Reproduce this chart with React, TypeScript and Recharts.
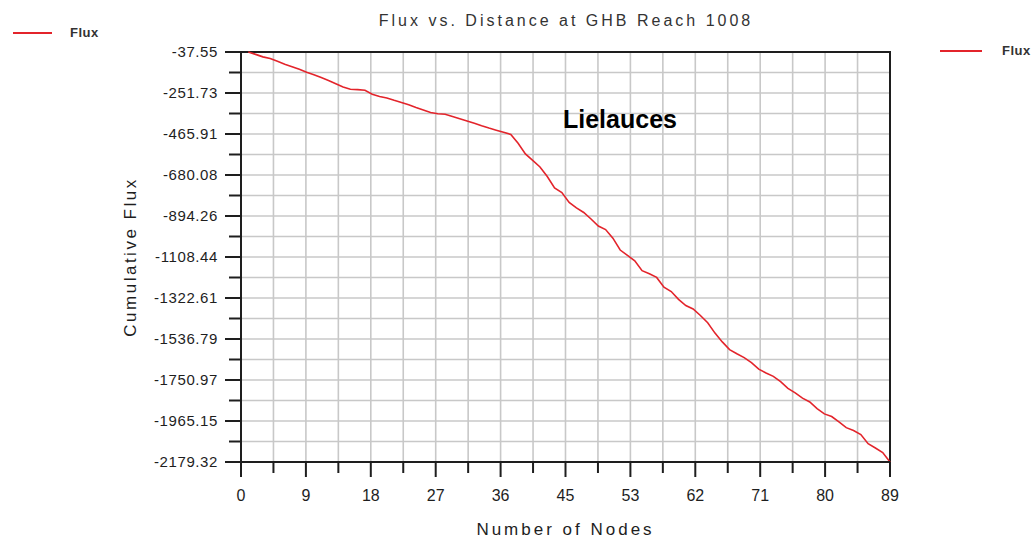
import {
  CartesianGrid,
  Label,
  Legend,
  Line,
  LineChart,
  ReferenceArea,
  XAxis,
  YAxis,
} from "recharts";

// node number along the reach
const nodes = [
  1, 2, 3, 4, 5, 6, 7, 8, 9, 10, 11, 12, 13, 14, 15, 16, 17, 18, 19, 20, 21, 22,
  23, 24, 25, 26, 27, 28, 29, 30, 31, 32, 33, 34, 35, 36, 37, 38, 39, 40, 41, 42,
  43, 44, 45, 46, 47, 48, 49, 50, 51, 52, 53, 54, 55, 56, 57, 58, 59, 60, 61, 62,
  63, 64, 65, 66, 67, 68, 69, 70, 71, 72, 73, 74, 75, 76, 77, 78, 79, 80, 81, 82,
  83, 84, 85, 86, 87, 88, 89,
];

// cumulative flux
const flux = [
  -37.55, -50, -63, -72, -86, -101, -114, -128, -143, -156, -171, -186, -203,
  -220, -232, -234, -237, -258, -270, -278, -290, -301, -313, -327, -340, -354,
  -360, -363, -374, -386, -398, -410, -423, -435, -446, -457, -468, -514, -570,
  -604, -638, -688, -748, -772, -823, -852, -876, -910, -947, -965, -1010,
  -1072, -1100, -1128, -1180, -1196, -1215, -1266, -1289, -1330, -1362, -1380,
  -1414, -1452, -1506, -1552, -1592, -1614, -1634, -1660, -1694, -1714, -1732,
  -1760, -1795, -1818, -1846, -1866, -1900, -1928, -1942, -1970, -2000, -2015,
  -2036, -2084, -2106, -2130, -2179.32,
];

const xTickLabels = ["0", "9", "18", "27", "36", "45", "53", "62", "71", "80", "89"];
const yTickLabels = [
  "-37.55", "-251.73", "-465.91", "-680.08", "-894.26", "-1108.44",
  "-1322.61", "-1536.79", "-1750.97", "-1965.15", "-2179.32",
];

const seriesName = "Flux";
const chartTitle = "Flux vs. Distance at GHB Reach 1008";
const note = "Lielauces";

const X_MAX = 89;
const Y_TOP = -37.55;
const Y_BOTTOM = -2179.32;
const xStep = X_MAX / 20;
const yStep = (Y_TOP - Y_BOTTOM) / 20;
const xTicks = Array.from({ length: 21 }, (_, i) => i * xStep);
const yTicks = Array.from({ length: 21 }, (_, i) => Y_TOP - i * yStep);

const data = nodes.map((n, i) => ({ node: n, flux: flux[i] }));

const FONT = "'Liberation Sans', Arial, sans-serif";
const RED = "#e3242b";
const INK = "#1e1e1e";

const XTick = (props: any) => {
  const { x, y, payload } = props;
  const i = Math.round(payload.value / xStep);
  const major = i % 2 === 0;
  return (
    <g>
      <line x1={x} x2={x} y1={y} y2={y + (major ? 15 : 11)} stroke={INK} strokeWidth={2} />
      {major && (
        <text x={x} y={y + 39} textAnchor="middle" fontSize={16} fill={INK} fontFamily={FONT}>
          {xTickLabels[i / 2]}
        </text>
      )}
    </g>
  );
};

const YTick = (props: any) => {
  const { x, y, payload } = props;
  const i = Math.round((Y_TOP - payload.value) / yStep);
  const major = i % 2 === 0;
  return (
    <g>
      <line x1={x - (major ? 16 : 12)} x2={x} y1={y} y2={y} stroke={INK} strokeWidth={2} />
      {major && (
        <text
          x={x - 23}
          y={y}
          dy="0.36em"
          textAnchor="end"
          fontSize={15}
          letterSpacing={0.6}
          fill={INK}
          fontFamily={FONT}
        >
          {yTickLabels[i / 2]}
        </text>
      )}
    </g>
  );
};

const LegendBoth = (props: any) => {
  const name = props.payload?.[0]?.value ?? seriesName;
  const item = (left: number, top: number, lineW: number, gap: number) => (
    <div style={{ position: "absolute", left, top, display: "flex", alignItems: "center" }}>
      <div style={{ width: lineW, height: 2, background: RED }} />
      <span
        style={{
          marginLeft: gap,
          fontFamily: FONT,
          fontSize: 13,
          fontWeight: 700,
          letterSpacing: 0.5,
          color: "#333",
        }}
      >
        {name}
      </span>
    </div>
  );
  return (
    <div style={{ position: "relative", width: 0, height: 0 }}>
      {item(13, 25, 39, 18)}
      {item(940, 43, 42, 20)}
    </div>
  );
};

const App = () => {
  return (
    <div style={{ position: "absolute", left: 0, top: 0, width: 1034, height: 542, background: "#fff" }}>
      <LineChart width={1034} height={542} data={data} margin={{ top: 52, right: 144, bottom: 0, left: 0 }}>
        <CartesianGrid stroke="#c8c8c8" strokeWidth={1.6} />
        <XAxis
          dataKey="node"
          type="number"
          domain={[0, X_MAX]}
          ticks={xTicks}
          interval={0}
          height={80}
          tickSize={0}
          tickMargin={0}
          tickLine={false}
          axisLine={{ stroke: INK, strokeWidth: 2 }}
          tick={<XTick />}
        >
          <Label
            value="Number of Nodes"
            position="center"
            dy={27}
            fontSize={17}
            letterSpacing={3}
            fill={INK}
            fontFamily={FONT}
          />
        </XAxis>
        <YAxis
          type="number"
          domain={[Y_BOTTOM, Y_TOP]}
          ticks={yTicks}
          interval={0}
          width={241}
          tickSize={0}
          tickMargin={0}
          tickLine={false}
          axisLine={{ stroke: INK, strokeWidth: 2 }}
          tick={<YTick />}
        >
          <Label
            value="Cumulative Flux"
            angle={-90}
            position="center"
            dx={9}
            fontSize={17}
            letterSpacing={2.5}
            fill={INK}
            fontFamily={FONT}
          />
        </YAxis>
        <ReferenceArea
          x1={0}
          x2={X_MAX}
          y1={Y_BOTTOM}
          y2={Y_TOP}
          fill="none"
          stroke={INK}
          strokeWidth={2}
          fillOpacity={0}
        />
        <Line
          type="linear"
          dataKey="flux"
          name={seriesName}
          stroke={RED}
          strokeWidth={1.6}
          dot={false}
          isAnimationActive={false}
        />
        <Legend
          content={<LegendBoth />}
          wrapperStyle={{ left: 0, top: 0, width: 1034, height: 0 }}
        />
      </LineChart>
      <svg
        width={1034}
        height={542}
        style={{ position: "absolute", left: 0, top: 0, pointerEvents: "none" }}
      >
        <text
          x={566}
          y={26}
          textAnchor="middle"
          fontSize={16}
          letterSpacing={3}
          fill="#333"
          fontFamily={FONT}
        >
          {chartTitle}
        </text>
        <text x={563} y={128} fontSize={25} fontWeight={700} fill="#000" fontFamily={FONT}>
          {note}
        </text>
      </svg>
    </div>
  );
};

export default App;
